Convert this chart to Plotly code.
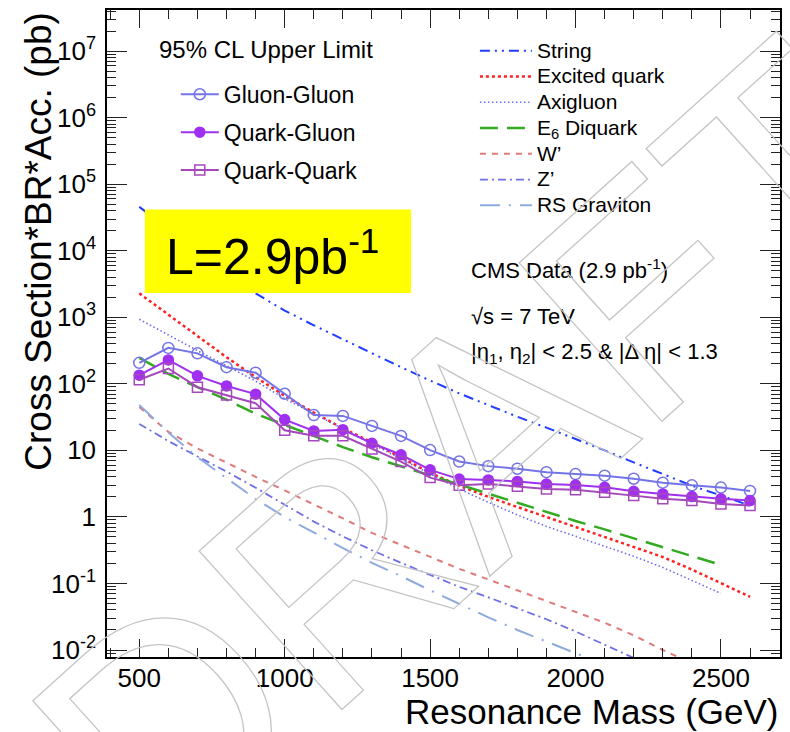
import plotly.graph_objects as go

FONT = "Liberation Sans, Arial, Helvetica, sans-serif"

# Resonance mass points (GeV) of the upper limits
mass = [500, 600, 700, 800, 900, 1000, 1100, 1200, 1300, 1400, 1500,
        1600, 1700, 1800, 1900, 2000, 2100, 2200, 2300, 2400, 2500, 2600]

# 95% CL upper limits on cross section * BR * acceptance (pb)
limit_gluon_gluon = [207, 347, 287, 178, 147, 71, 34, 33, 23.3, 16.5, 10.1,
                     6.8, 5.8, 5.3, 4.7, 4.4, 4.17, 3.75, 3.27, 2.98, 2.76, 2.46]
limit_quark_gluon = [135, 229, 132, 93, 70, 29, 19.6, 20.5, 12.8, 8.6, 5.1,
                     3.7, 3.6, 3.42, 3.13, 3.02, 2.79, 2.43, 2.22, 2.02, 1.87, 1.76]
limit_quark_quark = [115, 170, 89, 68, 51, 20, 16.6, 16.6, 10.5, 6.8, 3.9,
                     3.0, 3.13, 2.88, 2.63, 2.57, 2.34, 2.09, 1.87, 1.76, 1.57, 1.48]

# Model predictions (pb), sampled on the same mass points
xs_string = [45700, 21400, 10000, 4680, 2290, 1260, 759, 468, 282, 178, 112,
             72, 48, 32, 22, 15, 10, 6.6, 4.4, 2.95, 2.1, 1.48]
xs_excited_quark = [2290, 1100, 525, 251, 126, 66, 37, 21.4, 13.2, 7.9, 4.6,
                    2.95, 2.0, 1.41, 1.0, 0.71, 0.51, 0.36, 0.25, 0.162, 0.102, 0.063]
xs_axigluon = [933, 537, 316, 186, 110, 60, 35.5, 20.9, 12.6, 7.4, 4.4,
               2.63, 1.66, 1.07, 0.72, 0.51, 0.36, 0.257, 0.174, 0.112, 0.071]
xs_e6_diquark = [245, 141, 89, 58, 35.5, 24, 16.2, 11.2, 7.9, 5.75, 4.27,
                 3.09, 2.24, 1.62, 1.17, 0.87, 0.65, 0.48, 0.35, 0.257, 0.19]
xs_wprime = [44.7, 19, 10.7, 6.5, 4.0, 2.5, 1.55, 0.95, 0.575, 0.38, 0.245,
             0.166, 0.115, 0.079, 0.055, 0.038, 0.0257, 0.0166, 0.010, 0.0063]
xs_zprime = [25, 13.8, 8.1, 4.8, 2.75, 1.51, 0.85, 0.51, 0.316, 0.204, 0.135,
             0.089, 0.062, 0.043, 0.029, 0.019, 0.012, 0.0076]
xs_rs_graviton = [48, 18.6, 7.9, 3.8, 1.86, 1.0, 0.575, 0.34, 0.204, 0.129, 0.079,
                  0.049, 0.031, 0.020, 0.0135, 0.0089, 0.006]

x_tick_values = [500, 1000, 1500, 2000, 2500]
y_tick_exponents = [-2, -1, 0, 1, 2, 3, 4, 5, 6, 7]

fig = go.Figure()

# --- model curves (right legend) ---
theory = [
    ("String", xs_string, "#1f3cff", "10px,5px,2px,5px,2px,5px", 2),
    ("Excited quark", xs_excited_quark, "#ff2020", "3px,3px", 2.5),
    ("Axigluon", xs_axigluon, "#6a6af0", "1.5px,2.5px", 1.6),
    ("E<sub>6</sub> Diquark", xs_e6_diquark, "#33aa22", "18px,9px", 2.5),
    ("W\u2019", xs_wprime, "#e07a7a", "6px,6px", 2),
    ("Z\u2019", xs_zprime, "#6f6fe8", "8px,4px,2px,4px", 1.8),
    ("RS Graviton", xs_rs_graviton, "#8eaade", "20px,9px,2px,9px", 2),
]
for name, vals, color, dash, width in theory:
    fig.add_trace(go.Scatter(
        x=mass[:len(vals)], y=vals, mode="lines",
        name='<span style="font-size:21px">' + name + "</span>",
        line=dict(color=color, dash=dash, width=width),
        legend="legend2",
    ))

# --- measured limits (left legend) ---
limits = [
    ("Gluon-Gluon", limit_gluon_gluon, "#7474e6", "circle-open", 11),
    ("Quark-Gluon", limit_quark_gluon, "#a030f0", "circle", 10),
    ("Quark-Quark", limit_quark_quark, "#a448bc", "square-open", 10),
]
for name, vals, color, symbol, size in limits:
    fig.add_trace(go.Scatter(
        x=mass, y=vals, mode="lines+markers", name=name,
        line=dict(color=color, width=2),
        marker=dict(symbol=symbol, size=size, color=color,
                    line=dict(color=color, width=1.5)),
        legend="legend", legendgroup=name,
    ))

# minor tick positions
y_minor = [k * 10 ** e for e in range(-3, 8) for k in range(2, 10)]
x_minor = [m for m in range(400, 2800, 100) if m % 500 != 0]

axis_common = dict(
    showline=True, linecolor="black", linewidth=1.5, mirror="allticks",
    ticks="inside", tickcolor="#222", tickwidth=1, showgrid=False, zeroline=False,
)

fig.update_xaxes(
    range=[389, 2703], tickmode="array", tickvals=x_tick_values,
    ticktext=[str(v) for v in x_tick_values], ticklen=18,
    minor=dict(tickmode="array", tickvals=x_minor, ticks="inside", ticklen=9,
               tickcolor="#222", showgrid=False),
    tickfont=dict(family=FONT, size=26, color="black"),
    ticklabelstandoff=-3,
    **axis_common,
)


def decade_label(e):
    if e == 0:
        return "1"
    if e == 1:
        return "10"
    return "10<sup>%d</sup>" % e


fig.update_yaxes(
    type="log", range=[-2.105, 7.618], tickmode="array",
    tickvals=[10 ** e for e in y_tick_exponents],
    ticktext=[decade_label(e) for e in y_tick_exponents], ticklen=20,
    minor=dict(tickmode="array", tickvals=y_minor, ticks="inside", ticklen=9,
               tickcolor="#222", showgrid=False),
    tickfont=dict(family=FONT, size=26, color="black"),
    ticklabelstandoff=4,
    **axis_common,
)

W, H = 790, 732
L, R, T, B = 107, 8, 8, 75
PW, PH = W - L - R, H - T - B


def px(x):
    return (x - L) / PW


def py(y):
    return (H - B - y) / PH


annotations = [
    # axis titles
    dict(text="Resonance Mass (GeV)", x=px(782), y=py(712), xanchor="right",
         yanchor="middle", font=dict(family=FONT, size=35, color="black")),
    dict(text="Cross Section*BR*Acc. (pb)", x=px(38), y=py(8), textangle=-90,
         xanchor="center", yanchor="top", font=dict(family=FONT, size=37, color="black")),
    # legend header
    dict(text="95% CL Upper Limit", x=px(157), y=py(48), xanchor="left", yanchor="middle",
         font=dict(family=FONT, size=24, color="black")),
    # luminosity box text
    dict(text="L=2.9pb<sup>-1</sup>", x=px(164), y=py(252), xanchor="left", yanchor="middle",
         font=dict(family=FONT, size=50, color="black")),
    # data description
    dict(text="CMS Data (2.9 pb<sup>-1</sup>)", x=px(470), y=py(268), xanchor="left",
         yanchor="middle", font=dict(family=FONT, size=22, color="black")),
    dict(text="\u221as = 7 TeV", x=px(470), y=py(315), xanchor="left",
         yanchor="middle", font=dict(family=FONT, size=22, color="black")),
    dict(text="|\u03b7<sub>1</sub>, \u03b7<sub>2</sub>| &lt; 2.5 &amp; |\u0394 \u03b7| &lt; 1.3",
         x=px(470), y=py(352), xanchor="left", yanchor="middle",
         font=dict(family=FONT, size=22, color="black")),
    # watermark
    dict(text="DRAFT", x=px(470), y=py(450), xanchor="center", yanchor="middle",
         textangle=-42, font=dict(family=FONT, size=310, color="rgba(0,0,0,0)")),
]
for a in annotations:
    a.update(xref="paper", yref="paper", showarrow=False)

fig.update_layout(
    width=W, height=H,
    margin=dict(l=L, r=R, t=T, b=B),
    paper_bgcolor="white", plot_bgcolor="white",
    annotations=annotations,
    shapes=[dict(type="rect", xref="paper", yref="paper",
                 x0=px(145), x1=px(412), y0=py(292), y1=py(208),
                 fillcolor="#ffff00", line=dict(width=0), layer="above")],
    legend=dict(x=px(176), y=py(71), xanchor="left", yanchor="top",
                bgcolor="rgba(0,0,0,0)", tracegroupgap=5, itemwidth=38,
                font=dict(family=FONT, size=23, color="black")),
    legend2=dict(x=px(476), y=py(31), xanchor="left", yanchor="top",
                 bgcolor="rgba(0,0,0,0)", tracegroupgap=0, itemwidth=52,
                 font=dict(family=FONT, size=17.5, color="black")),
    showlegend=True,
)

# outline-only lettering for the watermark
watermark_js = """
var gd = document.getElementById('{plot_id}');
function outlineWatermark() {
  gd.querySelectorAll('.annotation-text').forEach(function (t) {
    if (t.textContent === 'DRAFT') {
      t.style.fill = 'none';
      t.style.stroke = '#c4c4c4';
      t.style.strokeWidth = '1.3px';
    }
  });
}
outlineWatermark();
gd.on('plotly_afterplot', outlineWatermark);
"""

fig.write_html("out.html", post_script=watermark_js)
